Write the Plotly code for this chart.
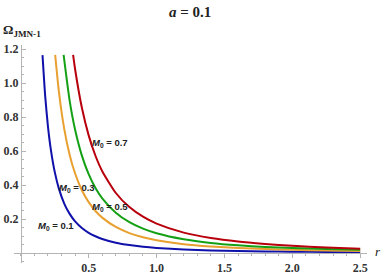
import plotly.graph_objects as go

# ---- data ----
r_m01 = [0.160, 0.18, 0.20, 0.22, 0.25, 0.28, 0.32, 0.36, 0.40, 0.45, 0.50, 0.55, 0.60, 0.70, 0.80, 0.90,
         1.0, 1.2, 1.4, 1.6, 1.8, 2.0, 2.25, 2.5]
om_m01 = [1.164, 0.920, 0.745, 0.616, 0.477, 0.380, 0.291, 0.230, 0.186, 0.147, 0.119, 0.0985, 0.0828,
          0.0608, 0.0466, 0.0368, 0.0298, 0.0207, 0.0152, 0.0116, 0.0092, 0.0075, 0.0059, 0.0048]

r_m03 = [0.2534, 0.28, 0.32, 0.36, 0.40, 0.45, 0.50, 0.55, 0.60, 0.70, 0.80, 0.90,
         1.0, 1.2, 1.4, 1.6, 1.8, 2.0, 2.25, 2.5]
om_m03 = [1.165, 0.954, 0.730, 0.577, 0.4675, 0.369, 0.299, 0.247, 0.208, 0.153, 0.117, 0.0923,
          0.0748, 0.0519, 0.0382, 0.0292, 0.0231, 0.0187, 0.0148, 0.0120]

r_m05 = [0.3155, 0.36, 0.40, 0.45, 0.50, 0.55, 0.60, 0.70, 0.80, 0.90,
         1.0, 1.2, 1.4, 1.6, 1.8, 2.0, 2.25, 2.5]
om_m05 = [1.165, 0.895, 0.725, 0.573, 0.464, 0.383, 0.322, 0.237, 0.181, 0.143,
          0.116, 0.0806, 0.0592, 0.0453, 0.0358, 0.029, 0.0229, 0.0186]

r_m07 = [0.3854, 0.40, 0.45, 0.50, 0.55, 0.60, 0.70, 0.80, 0.90,
         1.0, 1.2, 1.4, 1.6, 1.8, 2.0, 2.25, 2.5]
om_m07 = [1.165, 1.081, 0.854, 0.692, 0.572, 0.481, 0.353, 0.270, 0.2136,
          0.173, 0.120, 0.0883, 0.0676, 0.0534, 0.042, 0.032, 0.025]

series_names = ["M0 = 0.1", "M0 = 0.3", "M0 = 0.5", "M0 = 0.7"]
label_texts = ["<b><i>M</i><sub>0</sub> = 0.1</b>", "<b><i>M</i><sub>0</sub> = 0.3</b>",
               "<b><i>M</i><sub>0</sub> = 0.5</b>", "<b><i>M</i><sub>0</sub> = 0.7</b>"]
label_r = [0.261, 0.412, 0.654, 0.654]
label_om = [0.159, 0.382, 0.271, 0.647]

x_tickvals = [0.5, 1.0, 1.5, 2.0, 2.5]
x_ticktext = ["0.5", "1.0", "1.5", "2.0", "2.5"]
y_tickvals = [0.2, 0.4, 0.6, 0.8, 1.0, 1.2]
y_ticktext = ["0.2", "0.4", "0.6", "0.8", "1.0", "1.2"]

colors = ["#1010aa", "#e8a030", "#14a014", "#b8000c"]

fig = go.Figure()
for rr, oo, nm, c in zip([r_m01, r_m03, r_m05, r_m07], [om_m01, om_m03, om_m05, om_m07],
                         series_names, colors):
    fig.add_trace(go.Scatter(x=rr, y=oo, mode="lines", name=nm,
                             line=dict(color=c, width=2, shape="spline", smoothing=0.6),
                             showlegend=False, hoverinfo="skip"))

for t, xr, yo in zip(label_texts, label_r, label_om):
    fig.add_annotation(x=xr, y=yo, xref="x", yref="y", text=t, showarrow=False,
                       font=dict(family="Liberation Sans", size=9.5, color="#222222"),
                       xanchor="center", yanchor="middle")

# title, axis labels (paper coordinates, outside the plotting area)
fig.add_annotation(x=0.4986, y=1.1514, xref="paper", yref="paper", text="<b><i>a</i> = 0.1</b>",
                   showarrow=False, font=dict(family="Liberation Serif", size=15, color="#222222"),
                   xanchor="center", yanchor="middle")
fig.add_annotation(x=-0.037, y=1.0688, xref="paper", yref="paper", text="<b>Ω<sub>JMN-1</sub></b>",
                   showarrow=False, font=dict(family="Liberation Serif", size=13, color="#222222"),
                   xanchor="left", yanchor="middle")
fig.add_annotation(x=1.031, y=0.0505, xref="paper", yref="paper", text="<i>r</i>",
                   showarrow=False, font=dict(family="Liberation Serif", size=13, color="#222222"),
                   xanchor="center", yanchor="middle")

axis_col = "#b4b4b4"
fig.update_layout(
    width=382, height=274,
    margin=dict(l=14, r=15, t=45, b=11, autoexpand=False),
    paper_bgcolor="white", plot_bgcolor="white",
    xaxis=dict(range=[-0.05, 2.55], anchor="free", position=0.0588 / 1.2823, automargin=False,
               showline=True, linecolor=axis_col, linewidth=1,
               showgrid=False, zeroline=False,
               tickmode="array", tickvals=x_tickvals, ticktext=x_ticktext,
               ticks="outside", ticklen=4, tickcolor=axis_col, tickwidth=1,
               minor=dict(ticks="outside", ticklen=2, tickcolor=axis_col, tick0=0, dtick=0.1),
               tickfont=dict(family="Liberation Serif", size=12, color="#333333", weight="bold")),
    yaxis=dict(range=[-0.0588, 1.2235], anchor="free", position=0.05 / 2.6, automargin=False,
               showline=True, linecolor=axis_col, linewidth=1,
               showgrid=False, zeroline=False,
               tickmode="array", tickvals=y_tickvals, ticktext=y_ticktext,
               ticks="inside", ticklen=4, tickcolor=axis_col, tickwidth=1,
               minor=dict(ticks="inside", ticklen=2, tickcolor=axis_col, tick0=0, dtick=0.05),
               tickfont=dict(family="Liberation Serif", size=12, color="#333333", weight="bold")),
)

fig.write_html("out.html", config={"displayModeBar": False},
               post_script="document.body.style.margin='0px';document.body.style.padding='0px';")
